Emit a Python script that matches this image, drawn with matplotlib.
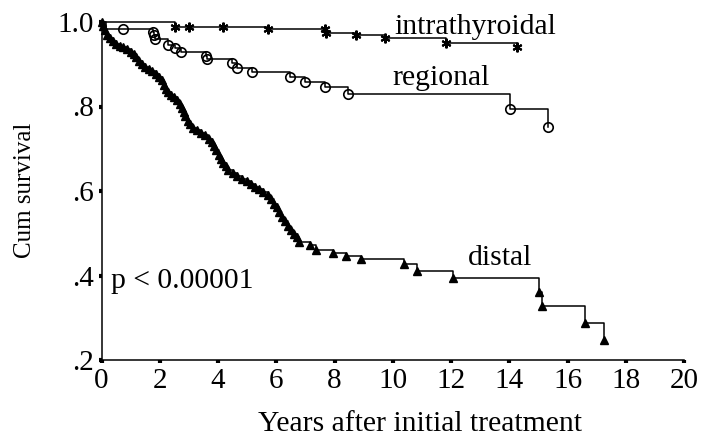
import numpy as np
import matplotlib
matplotlib.use("Agg")
import matplotlib.pyplot as plt

# Kaplan-Meier curves: step times (years) and cumulative survival after each step
intra_t = [0.0, 2.52, 5.70, 7.70, 8.73, 9.73, 11.84, 14.28]
intra_s = [1.000, 0.989, 0.983, 0.973, 0.969, 0.961, 0.951, 0.942]
intra_cens = [2.52, 3.01, 4.18, 5.70, 7.68, 7.72, 8.73, 9.73, 11.84, 14.28]

reg_t = [0.0, 0.15, 1.78, 1.80, 1.82, 2.27, 2.54, 2.73, 3.58, 3.62, 4.47, 4.64,
         5.18, 6.47, 6.98, 7.67, 8.47, 14.01, 15.33]
reg_s = [1.000, 0.983, 0.977, 0.969, 0.959, 0.946, 0.938, 0.930, 0.920, 0.912,
         0.902, 0.890, 0.881, 0.871, 0.858, 0.847, 0.830, 0.793, 0.752]
reg_cens = [0.75, 1.78, 1.80, 1.82, 2.27, 2.54, 2.73, 3.58, 3.62, 4.47, 4.64,
            5.18, 6.47, 6.98, 7.67, 8.47, 14.01, 15.33]

dist_t = [0.00, 0.05, 0.12, 0.20, 0.30, 0.40, 0.50, 0.62, 0.75, 0.88, 1.00,
          1.10, 1.20, 1.28, 1.38, 1.50, 1.62, 1.75, 1.88, 1.98, 2.08, 2.15,
          2.20, 2.28, 2.38, 2.48, 2.58, 2.68, 2.75, 2.82, 2.88, 2.96, 3.05,
          3.15, 3.27, 3.40, 3.55, 3.68, 3.78, 3.86, 3.93, 4.02, 4.10, 4.18,
          4.27, 4.36, 4.50, 4.65, 4.82, 5.00, 5.15, 5.28, 5.40, 5.55, 5.70,
          5.82, 5.92, 6.01, 6.10, 6.20, 6.30, 6.40, 6.50, 6.60, 6.70, 6.78,
          7.15, 7.38, 7.95, 8.41, 8.90, 10.38, 10.83, 12.07, 15.02, 15.13,
          16.61, 17.25]
dist_s = [1.000, 0.990, 0.980, 0.970, 0.962, 0.954, 0.948, 0.944, 0.940, 0.935,
          0.930, 0.924, 0.916, 0.908, 0.900, 0.894, 0.889, 0.884, 0.878, 0.871,
          0.862, 0.852, 0.842, 0.834, 0.828, 0.822, 0.815, 0.807, 0.797, 0.787,
          0.777, 0.766, 0.758, 0.750, 0.744, 0.738, 0.732, 0.724, 0.716, 0.706,
          0.696, 0.686, 0.676, 0.667, 0.658, 0.650, 0.642, 0.635, 0.629, 0.623,
          0.617, 0.610, 0.604, 0.598, 0.591, 0.581, 0.570, 0.561, 0.550, 0.539,
          0.528, 0.518, 0.508, 0.498, 0.490, 0.480, 0.472, 0.460, 0.454, 0.446,
          0.438, 0.427, 0.410, 0.393, 0.362, 0.327, 0.287, 0.247]

x_ticks = list(range(0, 21, 2))
y_ticks = [0.2, 0.4, 0.6, 0.8, 1.0]
y_tick_labels = [".2", ".4", ".6", ".8", "1.0"]


def step_value(times, surv, t):
    idx = np.searchsorted(times, t, side="right") - 1
    return np.asarray(surv)[idx]


plt.rcParams["font.family"] = ["Liberation Serif", "DejaVu Serif"]

fig = plt.figure(figsize=(7.03, 4.43), dpi=100)
ax = fig.add_axes([101.5 / 703, 83 / 443, (684 - 101.5) / 703, 338 / 443])

lw = 1.1
# intrathyroidal
ax.step(intra_t, intra_s, where="post", color="black", lw=lw, clip_on=False)
ax.plot(intra_cens, step_value(intra_t, intra_s, intra_cens), ls="none",
        marker=(6, 2, 0), ms=7, mew=1.5, color="black", clip_on=False)

# regional
ax.step(reg_t, reg_s, where="post", color="black", lw=lw, clip_on=False)
ax.plot(reg_cens, step_value(reg_t, reg_s, reg_cens), ls="none", marker="o",
        ms=6.8, mew=1.2, mfc="none", mec="black", clip_on=False)

# distal
ax.step(dist_t, dist_s, where="post", color="black", lw=lw, clip_on=False)
ax.plot(dist_t, dist_s, ls="none", marker="^", ms=6.3, color="black",
        clip_on=False)

ax.set_xlim(0, 20)
ax.set_ylim(0.2, 1.0)
ax.set_xticks(x_ticks)
ax.set_xticklabels([str(v) for v in x_ticks])
ax.set_yticks(y_ticks)
ax.set_yticklabels(y_tick_labels)
for side in ("top", "right"):
    ax.spines[side].set_visible(False)
for side in ("left", "bottom"):
    ax.spines[side].set_linewidth(1.1)
ax.tick_params(direction="out", length=2.5, width=3, labelsize=21, pad=3)

fs = 21.3
ax.text(10.05, 0.972, "intrathyroidal", fontsize=fs, ha="left", va="baseline")
ax.text(10.0, 0.851, "regional", fontsize=fs, ha="left", va="baseline")
ax.text(12.58, 0.426, "distal", fontsize=fs, ha="left", va="baseline")
ax.text(0.32, 0.370, "p < 0.00001", fontsize=fs, ha="left", va="baseline")

fig.text(420 / 703, 1 - 424 / 443, "Years after initial treatment",
         fontsize=fs, ha="center", va="center")
fig.text(25 / 703, 1 - 190 / 443, "Cum survival", fontsize=18,
         rotation=90, ha="center", va="center")

fig.savefig("out.png", dpi=100)
